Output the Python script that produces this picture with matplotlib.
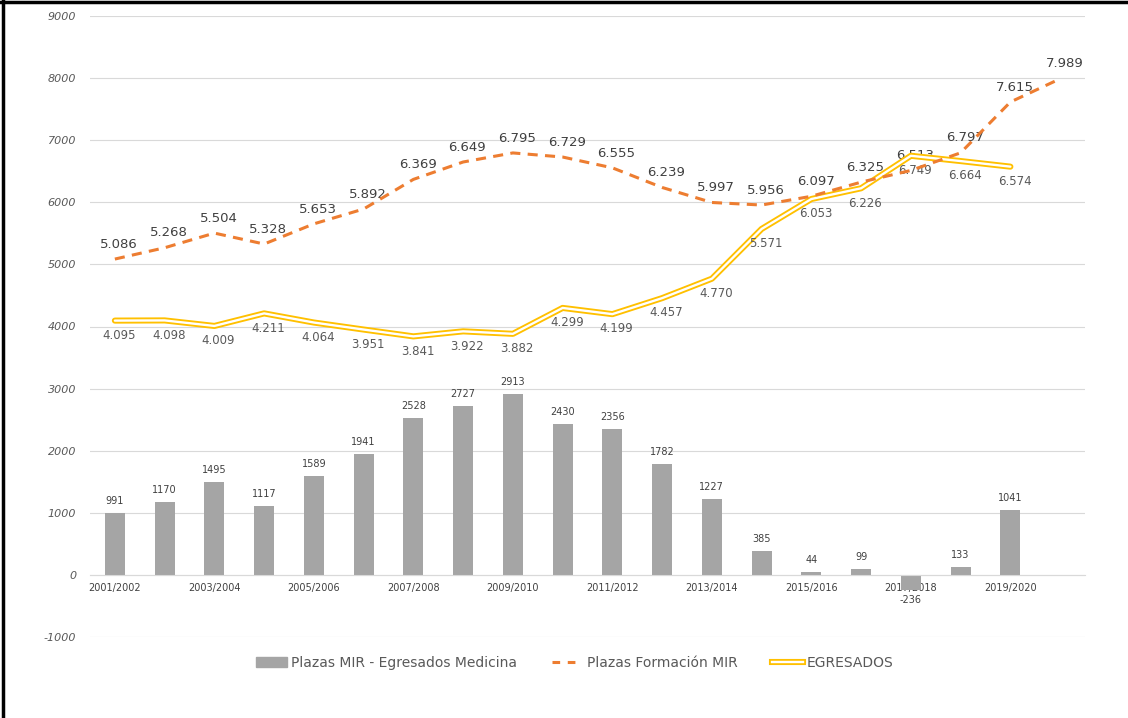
import matplotlib
matplotlib.use("Agg")
from matplotlib import pyplot as plt
from matplotlib.lines import Line2D
from matplotlib.patches import Patch

# data
years = ["2001/2002", "2002/2003", "2003/2004", "2004/2005", "2005/2006", "2006/2007",
         "2007/2008", "2008/2009", "2009/2010", "2010/2011", "2011/2012", "2012/2013",
         "2013/2014", "2014/2015", "2015/2016", "2016/2017", "2017/2018", "2018/2019",
         "2019/2020", "2020/2021"]
plazas_mir = [5086, 5268, 5504, 5328, 5653, 5892, 6369, 6649, 6795, 6729, 6555, 6239,
              5997, 5956, 6097, 6325, 6513, 6797, 7615, 7989]
egresados = [4095, 4098, 4009, 4211, 4064, 3951, 3841, 3922, 3882, 4299, 4199, 4457,
             4770, 5571, 6053, 6226, 6749, 6664, 6574]
diferencia = [991, 1170, 1495, 1117, 1589, 1941, 2528, 2727, 2913, 2430, 2356, 1782,
              1227, 385, 44, 99, -236, 133, 1041]

def fmt(v):
    return f"{v:,}".replace(",", ".")

fig = plt.figure(figsize=(11.28, 7.18), dpi=100)
ax = fig.add_axes([90 / 1128, 1 - 637 / 718, 995 / 1128, 621 / 718])

orange = "#ED7D31"
gold = "#FFC000"
grey = "#A5A5A5"

xb = list(range(len(diferencia)))
ax.bar(xb, diferencia, width=0.4, color=grey, zorder=2)
for x, v in zip(xb, diferencia):
    if v >= 0:
        ax.annotate(str(v), (x, v), xytext=(0, 5), textcoords="offset points",
                    ha="center", va="bottom", fontsize=7, color="#404040")
    else:
        ax.annotate(str(v), (x, v), xytext=(0, -4), textcoords="offset points",
                    ha="center", va="top", fontsize=7, color="#404040")

xo = list(range(len(plazas_mir)))
ax.plot(xo, plazas_mir, color=orange, lw=2.2, linestyle=(0, (3.3, 2.4)), zorder=4)
for x, v in zip(xo, plazas_mir):
    ax.annotate(fmt(v), (x, v), xytext=(3, 6), textcoords="offset points",
                ha="center", va="bottom", fontsize=9.5, color="#404040")

xe = list(range(len(egresados)))
ax.plot(xe, egresados, color=gold, lw=4.4, zorder=3, solid_capstyle="round")
ax.plot(xe, egresados, color="white", lw=1.7, zorder=3, solid_capstyle="round")
for x, v in zip(xe, egresados):
    ax.annotate(fmt(v), (x, v), xytext=(3, -6), textcoords="offset points",
                ha="center", va="top", fontsize=8.5, color="#595959")

ax.spines["bottom"].set_position(("data", 0))
ax.spines["bottom"].set_color("#D9D9D9")
for s in ["top", "right", "left"]:
    ax.spines[s].set_visible(False)

ax.set_xlim(-0.5, 19.5)
ax.set_ylim(-1000, 9000)
ax.set_yticks(range(-1000, 9001, 1000))
ax.set_yticklabels([str(t) for t in range(-1000, 9001, 1000)], fontsize=8,
                   color="#595959", style="italic")
ax.grid(axis="y", color="#D9D9D9", lw=0.8, zorder=0)
ax.tick_params(axis="y", length=0, pad=10)

ax.set_xticks(xo[::2])
ax.set_xticklabels(years[::2], fontsize=7, color="#404040")
ax.tick_params(axis="x", length=0, pad=6)

handles = [Patch(color=grey),
           Line2D([], [], color=orange, lw=2.2, linestyle=(0, (2.5, 2.5))),
           (Line2D([], [], color=gold, lw=4.4), Line2D([], [], color="white", lw=1.7))]
labels = ["Plazas MIR - Egresados Medicina", "Plazas Formación MIR", "EGRESADOS"]
fig.legend(handles, labels, loc="center", bbox_to_anchor=(575 / 1128, 1 - 663 / 718),
           ncol=3, frameon=False, fontsize=10, labelcolor="#595959",
           handlelength=2.2, handletextpad=0.3, columnspacing=2.5)

fig.add_artist(Line2D([0.003, 0.003], [0, 1], transform=fig.transFigure, color="black", lw=2.5))
fig.add_artist(Line2D([0, 1], [0.997, 0.997], transform=fig.transFigure, color="black", lw=2.5))

fig.savefig("out.png", dpi=100)
plt.close(fig)
